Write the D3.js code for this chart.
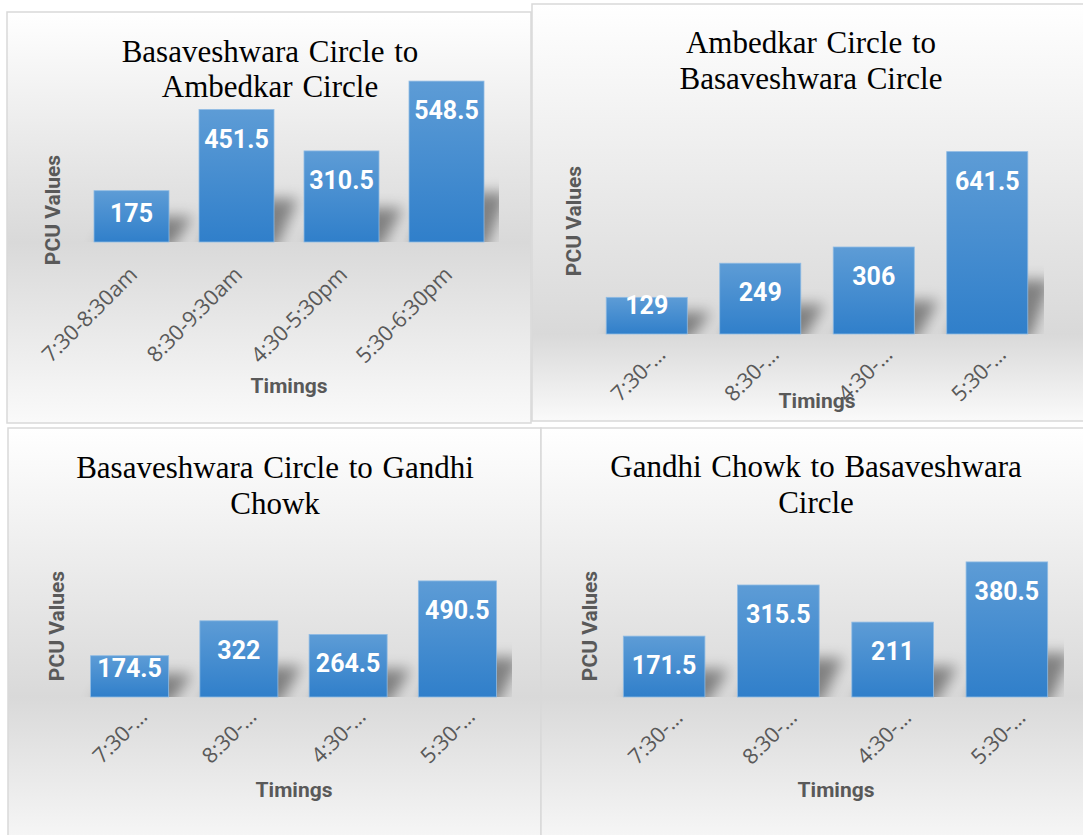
<!DOCTYPE html>
<html>
<head>
<meta charset="utf-8">
<script src="https://cdnjs.cloudflare.com/ajax/libs/d3/7.8.5/d3.min.js"></script>
<style>
  body { margin: 0; background: #fff; overflow: hidden; }
  svg { display: block; }
</style>
</head>
<body>
<div id="chart"></div>
<script>
// data
var timings = ["7:30-8:30am", "8:30-9:30am", "4:30-5:30pm", "5:30-6:30pm"];
var shortTimings = ["7:30-\u2026", "8:30-\u2026", "4:30-\u2026", "5:30-\u2026"];

var titles = [
  ["Basaveshwara Circle to", "Ambedkar Circle"],
  ["Ambedkar Circle to", "Basaveshwara Circle"],
  ["Basaveshwara Circle to Gandhi", "Chowk"],
  ["Gandhi Chowk to Basaveshwara", "Circle"]
];

var pcuBasToAmb = [175, 451.5, 310.5, 548.5];
var pcuAmbToBas = [129, 249, 306, 641.5];
var pcuBasToGan = [174.5, 322, 264.5, 490.5];
var pcuGanToBas = [171.5, 315.5, 211, 380.5];

var yMax = [600, 700, 600, 400];

var xTitle = "Timings",
    yTitle = "PCU Values";

// where each chart sits on the page
var layout = [
  { box: [7, 12, 524, 411],  x0: 79,  x1: 499,  top: 66,  base: 242, tcx: 270, ty: [62, 97],   xtx: 289, xty: 393, ytx: 60,  yty: 210, tdx: 7, tdy: 34, labels: timings },
  { box: [532, 4, 560, 417], x0: 590, x1: 1044, top: 135, base: 334, tcx: 811, ty: [53, 89],   xtx: 817, xty: 408, ytx: 581, yty: 221, tdx: 20, tdy: 22, labels: shortTimings },
  { box: [8, 428, 533, 430], x0: 75,  x1: 512,  top: 555, base: 697, tcx: 275, ty: [478, 514], xtx: 294, xty: 797, ytx: 64,  yty: 626, tdx: 19, tdy: 21, labels: shortTimings },
  { box: [541, 428, 560, 430], x0: 607, x1: 1064, top: 555, base: 697, tcx: 816, ty: [477, 513], xtx: 836, xty: 797, ytx: 597, yty: 626, tdx: 20, tdy: 22, labels: shortTimings }
];

var series = [pcuBasToAmb, pcuAmbToBas, pcuBasToGan, pcuGanToBas];

var w = 1083, h = 835;
var svg = d3.select("#chart").append("svg").attr("width", w).attr("height", h);
var defs = svg.append("defs");

// bar fill
var bg = defs.append("linearGradient").attr("id", "barFill")
  .attr("x1", 0).attr("y1", 0).attr("x2", 0).attr("y2", 1);
bg.append("stop").attr("offset", 0).attr("stop-color", "#5d9cd6");
bg.append("stop").attr("offset", 1).attr("stop-color", "#307fca");

// soft shadow
defs.append("filter").attr("id", "blur").attr("x", "-50%").attr("y", "-50%").attr("width", "200%").attr("height", "200%")
  .append("feGaussianBlur").attr("stdDeviation", 7);

series.forEach(function(vals, i) {
  var L = layout[i];
  var g = svg.append("g");

  // panel background gradient
  var f = (L.base - L.box[1]) / L.box[3];
  var pg = defs.append("linearGradient").attr("id", "panel" + i)
    .attr("gradientUnits", "userSpaceOnUse")
    .attr("x1", 0).attr("x2", 0).attr("y1", L.box[1]).attr("y2", L.box[1] + L.box[3]);
  pg.append("stop").attr("offset", 0).attr("stop-color", "#ffffff");
  pg.append("stop").attr("offset", f).attr("stop-color", "#d9d9d9");
  pg.append("stop").attr("offset", 1).attr("stop-color", "#fafafa");

  g.append("rect")
    .attr("x", L.box[0]).attr("y", L.box[1])
    .attr("width", L.box[2]).attr("height", L.box[3])
    .attr("fill", "url(#panel" + i + ")")
    .attr("stroke", "#d9d9d9").attr("stroke-width", 1.5);

  var x = d3.scaleBand().domain(timings).range([L.x0, L.x1]).paddingInner(0.2857).paddingOuter(0.1428);
  var y = d3.scaleLinear().domain([0, yMax[i]]).range([L.base, L.top]);

  // clip for shadows
  defs.append("clipPath").attr("id", "clip" + i)
    .append("rect").attr("x", L.x0).attr("y", L.top - 40)
    .attr("width", L.x1 - L.x0).attr("height", L.base - L.top + 40);

  var sh = g.append("g").attr("clip-path", "url(#clip" + i + ")")
    .append("g").attr("filter", "url(#blur)");

  sh.selectAll("polygon").data(vals).enter().append("polygon")
    .attr("points", function(d, j) {
      var bx = x(timings[j]), bw = x.bandwidth();
      var hh = L.base - y(d);
      var hs = 0.22 * hh + 14;
      var s = 2, k = 22;
      return [
        [bx + s, L.base + 6], [bx + bw + s, L.base + 6],
        [bx + bw + s + k, L.base - hs], [bx + s + k, L.base - hs]
      ].join(" ");
    })
    .attr("fill", "#000").attr("opacity", 0.42);

  g.selectAll("rect.bar").data(vals).enter().append("rect")
    .attr("class", "bar")
    .attr("x", function(d, j) { return x(timings[j]); })
    .attr("y", function(d) { return y(d); })
    .attr("width", x.bandwidth())
    .attr("height", function(d) { return L.base - y(d); })
    .attr("fill", "url(#barFill)")
    .attr("stroke", "#8fbbe4").attr("stroke-width", 0.8);

  // data labels
  g.selectAll("text.val").data(vals).enter().append("text")
    .attr("class", "val")
    .attr("x", function(d, j) { return x(timings[j]) + x.bandwidth() / 2; })
    .attr("y", function(d) { return Math.min(y(d) + 38, L.base - 20); })
    .attr("text-anchor", "middle")
    .style("font-family", "Roboto, sans-serif")
    .style("font-weight", 700)
    .style("font-size", "25px")
    .attr("fill", "#fff")
    .text(function(d) { return d; });

  // category labels
  g.selectAll("text.cat").data(timings).enter().append("text")
    .attr("class", "cat")
    .attr("transform", function(d) {
      var cx = x(d) + x.bandwidth() / 2 + L.tdx;
      return "translate(" + cx + "," + (L.base + L.tdy) + ") rotate(-45)";
    })
    .attr("text-anchor", "end")
    .style("font-family", "'Open Sans', sans-serif")
    .style("font-size", "21.5px")
    .attr("fill", "#595959")
    .text(function(d, j) { return L.labels[j]; });

  // chart title
  g.selectAll("text.title").data(titles[i]).enter().append("text")
    .attr("class", "title")
    .attr("x", L.tcx)
    .attr("y", function(d, j) { return L.ty[j]; })
    .attr("text-anchor", "middle")
    .style("font-family", "'Liberation Serif', 'Times New Roman', serif")
    .style("font-size", "31px")
    .style("word-spacing", "2px")
    .attr("fill", "#000")
    .text(function(d) { return d; });

  g.append("text")
    .attr("x", L.xtx).attr("y", L.xty)
    .attr("text-anchor", "middle")
    .style("font-family", "Roboto, sans-serif")
    .style("font-weight", 700)
    .style("font-size", "21px")
    .attr("fill", "#595959")
    .text(xTitle);

  g.append("text")
    .attr("transform", "translate(" + L.ytx + "," + L.yty + ") rotate(-90)")
    .attr("text-anchor", "middle")
    .style("font-family", "Roboto, sans-serif")
    .style("font-weight", 700)
    .style("font-size", "21px")
    .attr("fill", "#595959")
    .text(yTitle);
});
</script>
</body>
</html>
